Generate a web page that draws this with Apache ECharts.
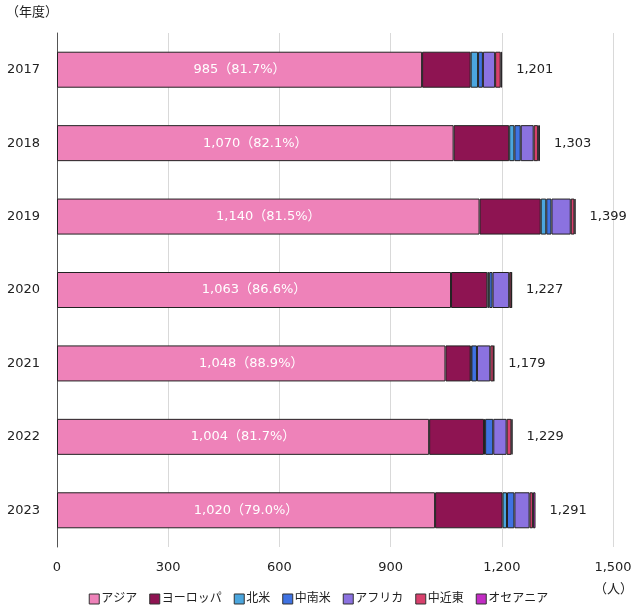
<!DOCTYPE html>
<html><head><meta charset="utf-8">
<script src="https://cdn.jsdelivr.net/npm/echarts@6/dist/echarts.min.js"></script>
<style>html,body{margin:0;padding:0;background:#fff}#c{width:637px;height:610px}</style>
</head><body><div id="c"></div>
<script>
const years = ['2017','2018','2019','2020','2021','2022','2023'];
const asia    = [985, 1070, 1140, 1063, 1048, 1004, 1020];
const europe  = [131, 150, 165, 98, 68, 148, 182];
const northAm = [20, 14, 15, 5, 2, 3, 12];
const latinAm = [13, 17, 14, 9, 15, 22, 20];
const africa  = [33, 35, 52, 45, 36, 36, 41];
const mideast = [15, 12, 10, 6, 9, 13, 9];
const oceania = [4, 5, 3, 1, 1, 3, 7];
const totals  = [1201, 1303, 1399, 1227, 1179, 1229, 1291];
const asiaPct = ['81.7', '82.1', '81.5', '86.6', '88.9', '81.7', '79.0'];
const names = ['アジア','ヨーロッパ','北米','中南米','アフリカ','中近東','オセアニア'];
const colors = ['#EE82B9','#8E1452','#4BA6DE','#3F72E2','#8B72E0','#D8406C','#C22CC4'];
const values = [asia, europe, northAm, latinAm, africa, mideast, oceania];
const fmt = n => n.toLocaleString('en-US');
const font = 'Verdana, "DejaVu Sans", "Noto Sans CJK JP", sans-serif';

const series = values.map((v, i) => {
  const s = {
    name: names[i], type: 'bar', stack: 'all', data: v, barWidth: 36,
    itemStyle: {color: colors[i], borderColor: '#222', borderWidth: 1},
    emphasis: {disabled: true}
  };
  if (i === 0) {
    s.label = {show: true, position: 'inside', color: '#fff', fontSize: 13, fontFamily: font,
      formatter: p => fmt(p.value) + '（' + asiaPct[p.dataIndex] + '%）'};
  }
  if (i === values.length - 1) {
    s.label = {show: true, position: 'right', distance: 14, color: '#222', fontSize: 13, fontFamily: font,
      formatter: p => fmt(totals[p.dataIndex])};
  }
  return s;
});

const chart = echarts.init(document.getElementById('c'));
chart.setOption({
  animation: false,
  textStyle: {fontFamily: font},
  grid: {left: 57, right: 24, top: 33, bottom: 63, containLabel: false},
  legend: {
    bottom: 0, left: 'center', itemWidth: 10, itemHeight: 10, itemGap: 12,
    icon: 'rect',
    textStyle: {fontSize: 12, color: '#222', fontFamily: font, padding: [0, 0, 0, -3]},
    data: names.map((n, i) => ({name: n, itemStyle: {borderColor: '#333', borderWidth: 1}}))
  },
  xAxis: {
    type: 'value', min: 0, max: 1500, interval: 300,
    axisLine: {show: false}, axisTick: {show: false},
    axisLabel: {color: '#222', fontSize: 13, margin: 14, formatter: v => fmt(v)},
    splitLine: {lineStyle: {color: '#d9d9d9'}}
  },
  yAxis: {
    type: 'category', data: years, inverse: true,
    axisLine: {show: true, lineStyle: {color: '#555'}}, axisTick: {show: false},
    axisLabel: {color: '#222', fontSize: 13, margin: 17}
  },
  graphic: [
    {type: 'text', left: 6, top: 6, style: {text: '（年度）', fontSize: 13, fill: '#222', fontFamily: font}},
    {type: 'text', right: 4, top: 583, style: {text: '（人）', fontSize: 13, fill: '#222', fontFamily: font}}
  ],
  series: series
});
</script></body></html>
